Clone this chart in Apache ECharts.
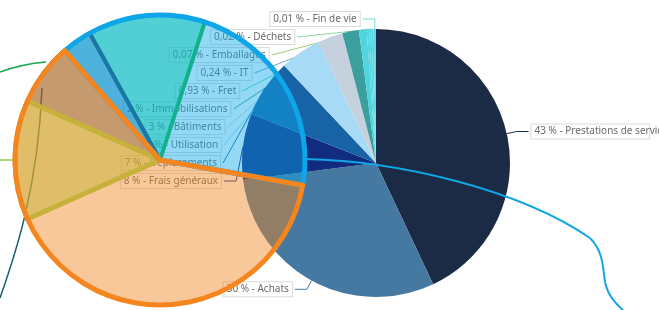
<!DOCTYPE html>
<html><head><meta charset="utf-8">
<script src="https://cdn.jsdelivr.net/npm/echarts@6/dist/echarts.min.js"></script>
<style>html,body{margin:0;padding:0;background:#fff}#c{width:659px;height:310px}</style>
</head><body><div id="c"></div>
<script>
// Main pie data
const categories = ['Prestations de services','Achats','Frais généraux','Déplacements','Utilisation','Bâtiments','Immobilisations','Fret','IT','Emballages','Déchets','Fin de vie'];
const shares = [43, 30, 8, 7, 5, 3, 2, 0.93, 0.24, 0.07, 0.02, 0.01];
const sliceColors = ['#1b2a45','#4679a1','#112b7f','#1763a6','#a7dbf5','#c5d2de','#3b9f9d','#50d4de','#54d6e0','#57d7e0','#5ad8e1','#5edae2'];
const labelLineColors = ['#1b2a45','#4679a1','#112b7f','#1763a6','#a7dbf5','#c5d2de','#3b9f9d','#50d4de','#6aa6c6','#9cc97e','#8fd6a5','#6fdfe3'];

// Overlay wedges (start angle clockwise from 12 o'clock, span in degrees)
const overlayNames  = ['bleu','orange','or','brun','bleu foncé','sarcelle'];
const overlayStarts = [319, 100, 246, 294, 319, 331];
const overlaySpans  = [141, 219, 48, 25, 12, 47];

const fmt = v => String(v).replace('.', ',');

function wedge(i, itemStyle, z) {
  return {
    type: 'pie', name: overlayNames[i], center: [160, 160], radius: 145,
    startAngle: 90 - overlayStarts[i], clockwise: true, silent: true, z: z,
    animation: false, label: {show: false}, labelLine: {show: false},
    emphasis: {disabled: true},
    data: [
      {value: overlaySpans[i], itemStyle: Object.assign({borderJoin: 'round'}, itemStyle)},
      {value: 360 - overlaySpans[i], itemStyle: {color: 'transparent', borderWidth: 0}}
    ]
  };
}
const T = 'transparent';
function curve(shape, stroke, w, z) {
  return {type: 'bezierCurve', z: z, silent: true, shape: shape, style: {fill: null, stroke: stroke, lineWidth: w}};
}

const chart = echarts.init(document.getElementById('c'), null, {renderer: 'canvas'});
chart.setOption({
  animation: false,
  graphic: {elements: [
    curve({x1: 0, y1: 72, cpx1: 22, cpy1: 64, x2: 46, y2: 62}, '#16a84a', 1.5, 2),
    curve({x1: 63, y1: 50, cpx1: 40, cpy1: 70, x2: 28, y2: 98}, '#1c5a70', 1.5, 2),
    curve({x1: 30, y1: 98, cpx1: 17, cpy1: 125, x2: 15, y2: 160}, '#8fd14f', 1.5, 2),
    {type: 'line', z: 2, silent: true, shape: {x1: 0, y1: 160, x2: 15, y2: 160}, style: {stroke: '#8fd14f', lineWidth: 1.5}},
    curve({x1: 0, y1: 298, cpx1: 14, cpy1: 258, cpx2: 38, cpy2: 190, x2: 42, y2: 88}, '#1c5a70', 1.5, 2),
    curve({x1: 305, y1: 159, cpx1: 400, cpy1: 161, cpx2: 520, cpy2: 190, x2: 590, y2: 238}, '#12a6e6', 2, 10),
    curve({x1: 590, y1: 238, cpx1: 604, cpy1: 252, cpx2: 603, cpy2: 270, x2: 605, y2: 282}, '#12a6e6', 2, 10),
    curve({x1: 605, y1: 282, cpx1: 608, cpy1: 296, cpx2: 616, cpy2: 304, x2: 626, y2: 313}, '#12a6e6', 2, 10)
  ]},
  series: [
    {
      type: 'pie', z: 1, center: [376, 163], radius: 134, startAngle: 90, clockwise: true,
      minAngle: 1, silent: true, animation: false,
      data: categories.map((n, i) => ({
        name: n, value: shares[i],
        itemStyle: {color: sliceColors[i]},
        labelLine: {lineStyle: {color: labelLineColors[i]}}
      })),
      itemStyle: {borderWidth: 0},
      label: {
        show: true, position: 'outside',
        formatter: p => fmt(p.value) + ' % - ' + p.name,
        fontFamily: 'Noto Sans', fontSize: 10, color: '#6b6b6b',
        backgroundColor: '#fff', borderColor: '#dadada', borderWidth: 1, padding: [2, 3],
        overflow: 'none', distanceToLabelLine: 3
      },
      labelLine: {show: true, length: 10, length2: 12, lineStyle: {width: 1}}
    },
    // fills
    wedge(0, {color: 'rgba(16,168,232,0.45)', borderWidth: 0}, 3),
    wedge(1, {color: 'rgba(240,133,31,0.45)', borderWidth: 0}, 3),
    wedge(2, {color: 'rgba(200,180,55,0.5)', borderWidth: 0}, 4),
    wedge(3, {color: 'rgba(110,80,40,0.38)', borderWidth: 0}, 4),
    wedge(4, {color: 'rgba(10,140,195,0.5)', borderWidth: 0}, 4),
    wedge(5, {color: 'rgba(0,195,170,0.44)', borderWidth: 0}, 4),
    // borders
    wedge(5, {color: T, borderColor: '#12b08c', borderWidth: 4}, 5),
    wedge(3, {color: T, borderColor: '#6e5030', borderWidth: 1.5}, 5),
    wedge(2, {color: T, borderColor: '#c6b23a', borderWidth: 5}, 5),
    wedge(4, {color: T, borderColor: '#1b76a6', borderWidth: 4}, 5),
    wedge(0, {color: T, borderColor: '#0ea5e9', borderWidth: 5}, 6),
    wedge(1, {color: T, borderColor: '#f5861f', borderWidth: 5}, 7)
  ]
});
</script></body></html>
